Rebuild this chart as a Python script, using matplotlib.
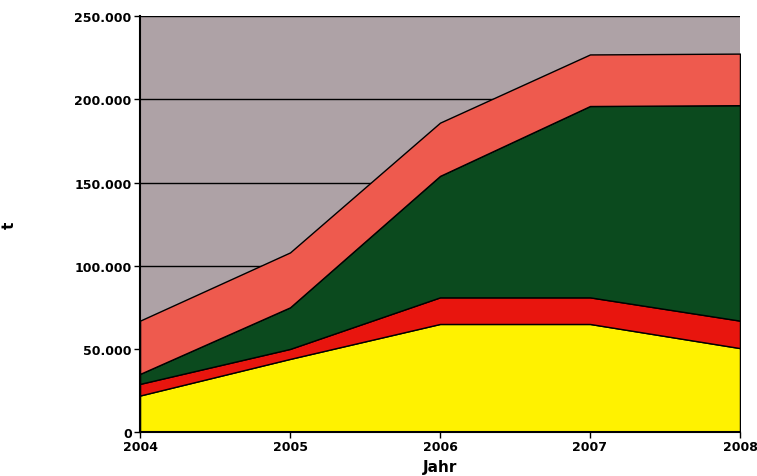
import numpy as np
from matplotlib import pyplot as plt
from matplotlib.ticker import FuncFormatter

years = [2004, 2005, 2006, 2007, 2008]
# cumulative tops, converted to layer heights
yellow = [22000, 44000, 65000, 65000, 50500]
red = [7000, 6000, 16000, 16000, 16500]
green = [6000, 25000, 73000, 115000, 129500]
salmon = [32000, 33000, 32000, 31000, 31000]

colors = ["#fff200", "#e8150e", "#0b4a1e", "#ee5a4e"]
bg = "#aea2a6"

fig = plt.figure(figsize=(7.57, 4.77), dpi=100)
ax = fig.add_axes([0.185, 0.092, 0.7925, 0.872])
ax.set_facecolor(bg)

ax.set_axisbelow(True)
ax.yaxis.grid(True, color="black", lw=1.0)
ax.stackplot(years, yellow, red, green, salmon, colors=colors,
             edgecolor="black", linewidth=1.0, zorder=2)

ax.set_xlim(2004, 2008)
ax.set_ylim(0, 250000)
ax.set_xticks(years)
ax.set_yticks(np.arange(0, 250001, 50000))
ax.yaxis.set_major_formatter(FuncFormatter(lambda v, p: f"{int(v):,}".replace(",", ".")))

for s in ["top", "right"]:
    ax.spines[s].set_visible(False)
ax.spines["left"].set_linewidth(1.5)
ax.spines["bottom"].set_linewidth(1.5)
ax.tick_params(labelsize=9, length=4, width=1, pad=2)
for lbl in ax.get_xticklabels() + ax.get_yticklabels():
    lbl.set_fontweight("bold")
ax.set_xlabel("Jahr", fontsize=11, fontweight="bold")
ax.xaxis.set_label_coords(0.5, -0.065)
ax.set_ylabel("t", fontsize=11, fontweight="bold", rotation=90)
ax.yaxis.set_label_coords(-0.205, 0.5)

fig.savefig("out.png", facecolor="white")
